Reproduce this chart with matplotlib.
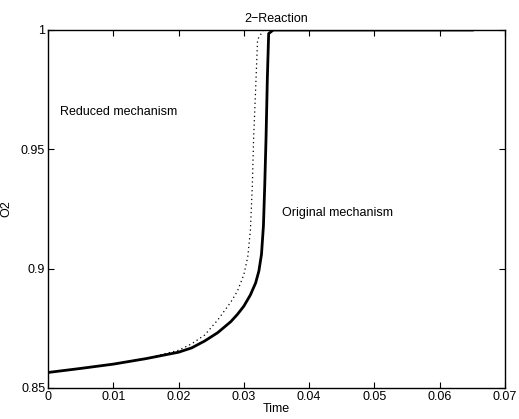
import matplotlib
matplotlib.use("Agg")
import matplotlib.pyplot as plt

plt.rcParams['font.family'] = ['Liberation Sans', 'DejaVu Sans']

# Original mechanism (solid, thick)
t_orig = [0.0, 0.005, 0.010, 0.015, 0.020, 0.022, 0.024, 0.026, 0.028, 0.029,
          0.030, 0.031, 0.0318, 0.0323, 0.0327, 0.0330, 0.0332, 0.0334, 0.0336,
          0.0338, 0.0345, 0.040, 0.050, 0.065]
o2_orig = [0.8565, 0.8582, 0.8600, 0.8623, 0.8650, 0.8668, 0.8697, 0.8732, 0.8778, 0.8808,
           0.8843, 0.8890, 0.8940, 0.8990, 0.9060, 0.9180, 0.9350, 0.9550, 0.9800,
           0.9985, 1.0, 1.0, 1.0, 1.0]

# Reduced mechanism (dotted)
t_red = [0.0, 0.005, 0.010, 0.015, 0.020, 0.022, 0.024, 0.026, 0.028, 0.029,
         0.030, 0.0306, 0.0310, 0.0313, 0.0315, 0.0318, 0.0321, 0.0330, 0.040,
         0.050, 0.065]
o2_red = [0.8565, 0.8582, 0.8600, 0.8624, 0.8658, 0.8685, 0.8722, 0.8785, 0.8860, 0.8905,
          0.8975, 0.9050, 0.9160, 0.9350, 0.9550, 0.9750, 0.9960, 1.0, 1.0,
          1.0, 1.0]

x_ticks = [0, 0.01, 0.02, 0.03, 0.04, 0.05, 0.06, 0.07]
x_tick_labels = ['0', '0.01', '0.02', '0.03', '0.04', '0.05', '0.06', '0.07']
y_ticks = [0.85, 0.9, 0.95, 1.0]
y_tick_labels = ['0.85', '0.9', '0.95', '1']

fig = plt.figure(figsize=(5.19, 4.19), dpi=100)
ax = fig.add_axes([48 / 519, 1 - 388 / 419, 457 / 519, 358 / 419])

ax.plot(t_red, o2_red, color='black', linestyle=(0, (1, 2.5)), linewidth=0.9)
ax.plot(t_orig, o2_orig, color='black', linestyle='-', linewidth=2.0,
        solid_joinstyle='round')

ax.set_xlim(0, 0.07)
ax.set_ylim(0.85, 1.0)
ax.set_xticks(x_ticks)
ax.set_xticklabels(x_tick_labels)
ax.set_yticks(y_ticks)
ax.set_yticklabels(y_tick_labels)
ax.tick_params(direction='in', top=True, right=True, length=4, width=0.8,
               labelsize=9, colors='black', pad=2)
for s in ax.spines.values():
    s.set_linewidth(1.0)

ax.set_title('2\u2212Reaction', fontsize=9, pad=6)
ax.set_xlabel('Time', fontsize=9, labelpad=0)
ax.set_ylabel('O2', fontsize=9, labelpad=6)

ax.text(0.0018, 0.9658, 'Reduced mechanism', fontsize=9, va='center', ha='left')
ax.text(0.0358, 0.9233, 'Original mechanism', fontsize=9, va='center', ha='left')

fig.savefig('out.png', dpi=100)
